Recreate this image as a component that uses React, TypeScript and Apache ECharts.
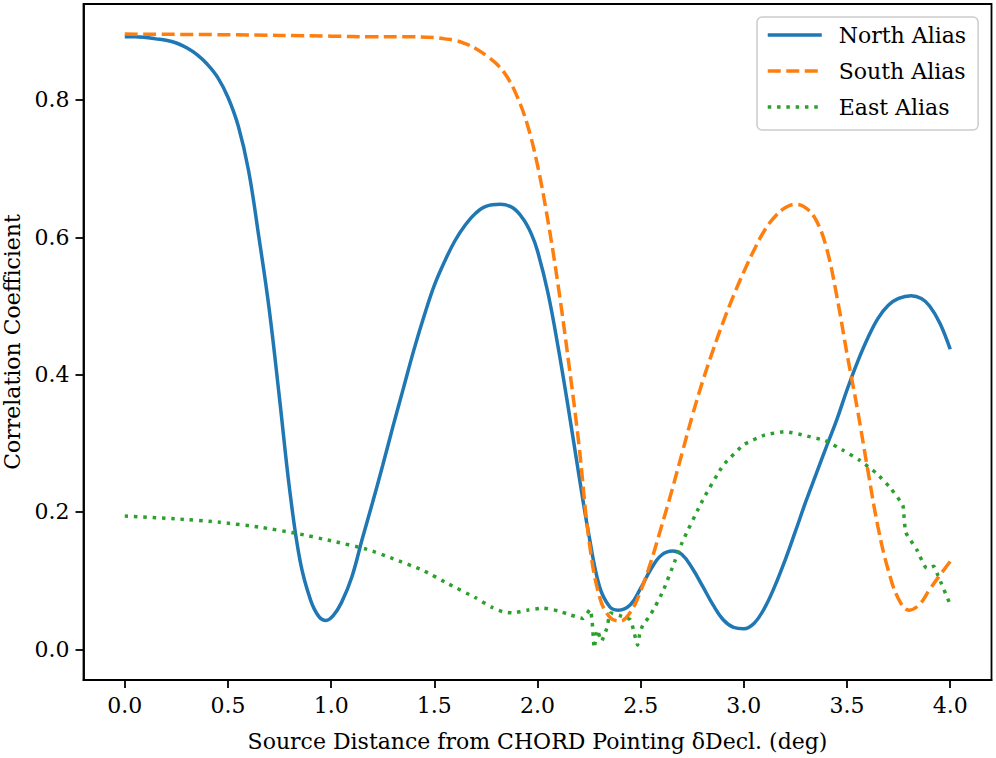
import React, { useEffect, useRef } from "react";
import * as echarts from "echarts";

const seriesNames = ["North Alias", "South Alias", "East Alias"];

const northAlias: [number, number][] = [
  [0.0, 0.892], [0.05, 0.892], [0.1, 0.891], [0.15, 0.889], [0.2, 0.887], [0.25, 0.883],
  [0.3, 0.876], [0.35, 0.866], [0.4, 0.852], [0.45, 0.833], [0.5, 0.804], [0.55, 0.762],
  [0.6, 0.697], [0.65, 0.6], [0.7, 0.495], [0.75, 0.365], [0.8, 0.23], [0.85, 0.128],
  [0.9, 0.072], [0.94, 0.048], [0.975, 0.042], [1.01, 0.049], [1.05, 0.068], [1.1, 0.105],
  [1.15, 0.16], [1.2, 0.213], [1.25, 0.268], [1.3, 0.325], [1.35, 0.38], [1.4, 0.435],
  [1.45, 0.485], [1.5, 0.53], [1.55, 0.565], [1.6, 0.595], [1.65, 0.618], [1.7, 0.635],
  [1.75, 0.645], [1.82, 0.648], [1.88, 0.643], [1.93, 0.627], [1.97, 0.605], [2.0, 0.58],
  [2.05, 0.52], [2.1, 0.44], [2.15, 0.35], [2.2, 0.255], [2.25, 0.165], [2.3, 0.092],
  [2.35, 0.062], [2.39, 0.057], [2.45, 0.065], [2.5, 0.089], [2.55, 0.117], [2.6, 0.137],
  [2.655, 0.143], [2.7, 0.138], [2.75, 0.118], [2.8, 0.092], [2.85, 0.065], [2.9, 0.043],
  [2.95, 0.032], [3.0, 0.03], [3.05, 0.038], [3.1, 0.06], [3.15, 0.092], [3.2, 0.13],
  [3.25, 0.172], [3.3, 0.215], [3.35, 0.255], [3.4, 0.295], [3.45, 0.334], [3.5, 0.378],
  [3.55, 0.418], [3.6, 0.453], [3.65, 0.482], [3.7, 0.501], [3.75, 0.511], [3.81, 0.515],
  [3.86, 0.511], [3.9, 0.5], [3.95, 0.475], [4.0, 0.437],
];

const southAlias: [number, number][] = [
  [0.0, 0.896], [0.5, 0.895], [1.0, 0.893], [1.2, 0.892], [1.4, 0.892], [1.5, 0.891],
  [1.55, 0.889], [1.6, 0.887], [1.65, 0.882], [1.7, 0.875], [1.75, 0.865], [1.8, 0.853],
  [1.85, 0.835], [1.9, 0.806], [1.95, 0.765], [2.0, 0.705], [2.05, 0.625], [2.1, 0.53],
  [2.15, 0.42], [2.2, 0.3], [2.25, 0.158], [2.3, 0.077], [2.35, 0.047], [2.4, 0.041],
  [2.45, 0.054], [2.5, 0.085], [2.55, 0.128], [2.6, 0.178], [2.65, 0.23], [2.7, 0.285],
  [2.75, 0.34], [2.8, 0.39], [2.85, 0.435], [2.9, 0.477], [2.95, 0.515], [3.0, 0.55],
  [3.05, 0.582], [3.1, 0.61], [3.15, 0.63], [3.2, 0.643], [3.25, 0.648], [3.3, 0.643],
  [3.35, 0.625], [3.4, 0.585], [3.45, 0.515], [3.5, 0.43], [3.55, 0.35], [3.6, 0.262],
  [3.65, 0.178], [3.7, 0.115], [3.75, 0.073], [3.8, 0.057], [3.85, 0.065], [3.9, 0.087],
  [3.95, 0.108], [4.0, 0.128],
];

const eastAlias: [number, number][] = [
  [0.0, 0.194], [0.25, 0.19], [0.46, 0.185], [0.65, 0.178], [0.83, 0.169], [1.0, 0.158],
  [1.17, 0.146], [1.3, 0.132], [1.445, 0.115], [1.57, 0.095], [1.7, 0.075], [1.78, 0.061],
  [1.83, 0.055], [1.88, 0.053], [1.95, 0.057], [2.03, 0.06], [2.1, 0.056], [2.16, 0.05],
  [2.22, 0.045], [2.255, 0.058], [2.265, 0.04], [2.275, 0.002], [2.29, 0.028], [2.31, 0.012],
  [2.335, 0.03], [2.355, 0.053], [2.4, 0.049], [2.45, 0.043], [2.47, 0.022], [2.485, 0.006],
  [2.495, 0.022], [2.51, 0.035], [2.54, 0.047], [2.57, 0.062], [2.61, 0.086], [2.665, 0.128],
  [2.7, 0.155], [2.8, 0.217], [2.9, 0.268], [3.0, 0.298], [3.1, 0.312], [3.2, 0.317],
  [3.3, 0.311], [3.393, 0.304], [3.48, 0.29], [3.563, 0.275], [3.64, 0.257], [3.71, 0.235],
  [3.77, 0.21], [3.775, 0.197], [3.785, 0.17], [3.838, 0.145], [3.886, 0.118], [3.92, 0.121],
  [3.94, 0.108], [4.0, 0.065],
];

const xTicks = [0.0, 0.5, 1.0, 1.5, 2.0, 2.5, 3.0, 3.5, 4.0];
const yTicks = [0.0, 0.2, 0.4, 0.6, 0.8];

const xTitle = "Source Distance from CHORD Pointing \u03B4Decl. (deg)";
const yTitle = "Correlation Coefficient";

const FONT = "DejaVu Serif";

export default function App() {
  const ref = useRef<HTMLDivElement>(null);
  useEffect(() => {
    if (!ref.current) return;
    const chart = echarts.init(ref.current, undefined, { renderer: "svg" });
    const axisCommon = {
      type: "value" as const,
      splitLine: { show: false },
      axisLine: { show: true, onZero: false, lineStyle: { color: "#000", width: 1.8 } },
      nameLocation: "middle" as const,
      nameTextStyle: { fontFamily: FONT, fontSize: 22, color: "#000" },
    };
    chart.setOption({
      animation: false,
      backgroundColor: "#fff",
      grid: {
        left: 83.5,
        right: 4.5,
        top: 4,
        bottom: 78,
        containLabel: false,
        outerBoundsMode: "none",
        show: true,
        borderColor: "#000",
        borderWidth: 1.8,
        backgroundColor: "transparent",
      },
      legend: {
        orient: "vertical",
        left: 757,
        top: 17,
        padding: [7, 12, 12, 9],
        itemGap: 14,
        itemWidth: 54,
        itemHeight: 22,
        backgroundColor: "rgba(255,255,255,0.8)",
        borderColor: "#cccccc",
        borderWidth: 1.5,
        borderRadius: 5,
        data: seriesNames,
        itemStyle: { opacity: 0 },
        lineStyle: { width: 3.5 },
        textStyle: { fontFamily: FONT, fontSize: 22, color: "#000", padding: [0, 0, 0, 12] },
      },
      xAxis: {
        ...axisCommon,
        min: -0.2,
        max: 4.2,
        name: xTitle,
        nameGap: 50,
        axisTick: {
          show: true,
          length: 8,
          customValues: xTicks,
          lineStyle: { color: "#000", width: 1.8 },
        },
        axisLabel: {
          customValues: xTicks,
          formatter: (v: number) => v.toFixed(1),
          fontFamily: FONT,
          fontSize: 22,
          color: "#000",
          margin: 14,
        },
      },
      yAxis: {
        ...axisCommon,
        min: -0.0447,
        max: 0.9398,
        name: yTitle,
        nameGap: 60,
        nameRotate: 90,
        axisTick: {
          show: true,
          length: 8,
          customValues: yTicks,
          lineStyle: { color: "#000", width: 1.8 },
        },
        axisLabel: {
          customValues: yTicks,
          formatter: (v: number) => v.toFixed(1),
          fontFamily: FONT,
          fontSize: 22,
          color: "#000",
          margin: 14,
        },
      },
      series: [
        {
          name: seriesNames[0],
          type: "line",
          data: northAlias,
          smooth: 0.4,
          symbol: "none",
          showSymbol: false,
          lineStyle: { color: "#1f77b4", width: 3.5, type: "solid" },
          itemStyle: { color: "#1f77b4" },
        },
        {
          name: seriesNames[1],
          type: "line",
          data: southAlias,
          smooth: 0.4,
          symbol: "none",
          showSymbol: false,
          lineStyle: { color: "#ff7f0e", width: 3.5, type: [13, 5.5], cap: "butt" },
          itemStyle: { color: "#ff7f0e" },
        },
        {
          name: seriesNames[2],
          type: "line",
          data: eastAlias,
          smooth: 0.15,
          symbol: "none",
          showSymbol: false,
          lineStyle: { color: "#2ca02c", width: 3.5, type: [3.5, 5.8], cap: "butt" },
          itemStyle: { color: "#2ca02c" },
        },
      ],
    });
    return () => chart.dispose();
  }, []);
  return (
    <div
      ref={ref}
      style={{ position: "absolute", left: 0, top: 0, width: 996, height: 758 }}
    />
  );
}
